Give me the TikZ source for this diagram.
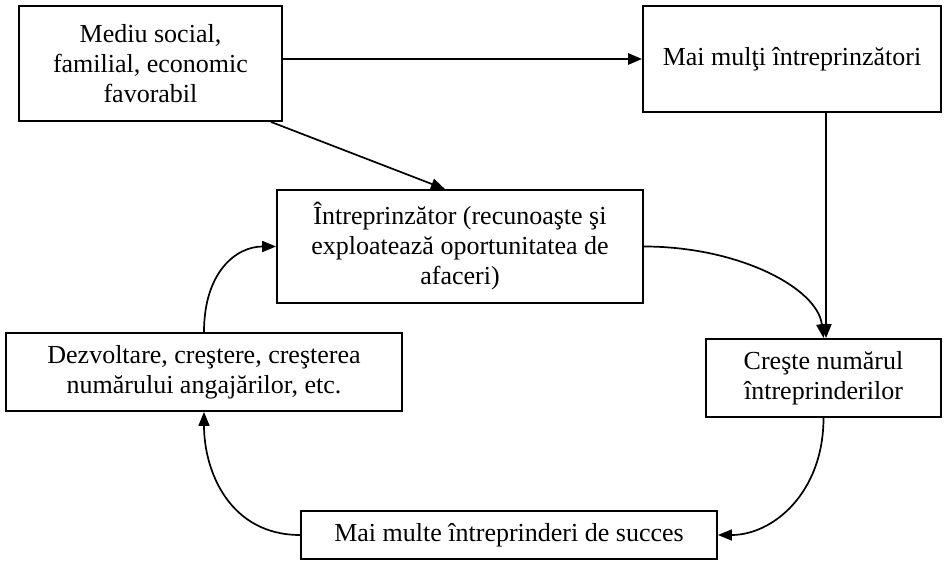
\documentclass[tikz,border=0pt]{standalone}
\usepackage{fontspec}
\setmainfont{Liberation Serif}
\usetikzlibrary{arrows.meta}
\tikzset{
  box/.style={draw, line width=1.8pt, align=center, inner sep=2pt,
    font=\fontsize{26}{30}\selectfont},
  conn/.style={line width=1.7pt, -{Triangle[length=14pt,width=11pt]}},
}
\begin{document}
\begin{tikzpicture}[x=1pt,y=-1pt]
\useasboundingbox (0,0) rectangle (944,561);
\node[box, minimum width=263pt, minimum height=115pt] (b1) at (150.5,63.5) {Mediu social,\\familial, economic\\favorabil};
\node[box, minimum width=298pt, minimum height=106pt] (b2) at (792,59) {Mai mulţi întreprinzători};
\node[box, minimum width=366pt, minimum height=113pt] (b3) at (460,246.5) {Întreprinzător (recunoaşte şi\\exploatează oportunitatea de\\afaceri)};
\node[box, minimum width=396pt, minimum height=78pt] (b4) at (204,372) {Dezvoltare, creştere, creşterea\\numărului angajărilor, etc.};
\node[box, minimum width=235pt, minimum height=78pt] (b5) at (823.5,378) {Creşte numărul\\întreprinderilor};
\node[box, minimum width=416pt, minimum height=48pt] (b6) at (509,535) {Mai multe întreprinderi de succes};
\draw[conn, line width=2.6pt] (b1.east |- b2.west) -- (b2.west);
\draw[conn] ([xshift=-12pt]b1.south east) -- ([xshift=-15pt]b3.north);
\draw[conn] ([xshift=2.5pt]b5.north |- b2.south) -- ([xshift=2.5pt]b5.north);
\draw[conn] (b3.east) .. controls +(95,0) and +(-6,-50) .. (b5.north);
\draw[conn] (b4.north) .. controls +(0,-60) and +(-40,0) .. (b3.west);
\draw[conn] (b5.south) .. controls +(0,75) and +(55,0) .. (b6.east);
\draw[conn] (b6.west) .. controls +(-70,0) and +(0,60) .. (b4.south);
\end{tikzpicture}
\end{document}
